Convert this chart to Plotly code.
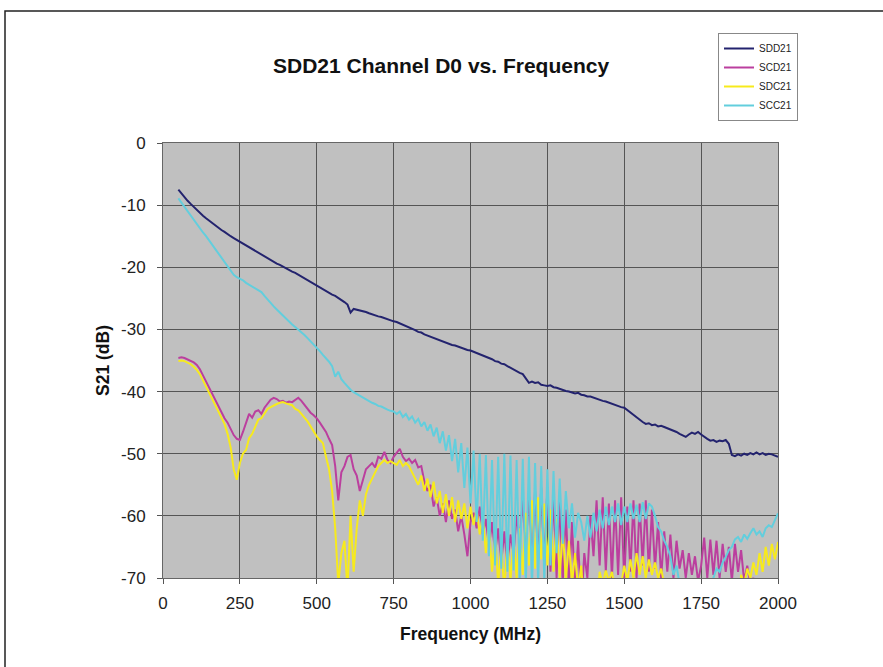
import plotly.graph_objects as go

# Frequency sweep (MHz), 10 MHz steps from 50 to 2000
freq = list(range(50, 2001, 10))

sdd21 = [
    -7.5, -8.1, -8.8, -9.3, -9.8, -10.3, -10.8, -11.3, -11.7, -12.1,
    -12.5, -12.9, -13.3, -13.6, -14.0, -14.3, -14.7, -15.0, -15.3, -15.6,
    -15.9, -16.2, -16.5, -16.8, -17.1, -17.4, -17.7, -18.0, -18.3, -18.6,
    -18.8, -19.1, -19.4, -19.6, -19.9, -20.2, -20.4, -20.7, -20.9, -21.2,
    -21.4, -21.8, -22.1, -22.4, -22.7, -23.0, -23.3, -23.5, -23.9, -24.1,
    -24.4, -24.6, -24.9, -25.3, -25.6, -26.0, -27.3, -26.7, -26.8, -26.9,
    -27.1, -27.2, -27.4, -27.6, -27.7, -27.9, -28.0, -28.2, -28.3, -28.5,
    -28.7, -28.8, -29.0, -29.2, -29.5, -29.7, -29.9, -30.1, -30.4, -30.5,
    -30.8, -31.0, -31.2, -31.4, -31.5, -31.8, -32.0, -32.2, -32.3, -32.5,
    -32.6, -32.8, -33.0, -33.1, -33.3, -33.4, -33.6, -33.7, -33.9, -34.2,
    -34.3, -34.6, -34.8, -35.1, -35.2, -35.5, -35.6, -35.9, -36.2, -36.5,
    -36.8, -37.0, -37.2, -37.9, -38.6, -38.4, -38.6, -38.5, -38.9, -39.0,
    -39.1, -39.0, -39.3, -39.4, -39.6, -39.7, -39.9, -40.0, -40.1, -40.3,
    -40.2, -40.5, -40.6, -40.8, -40.8, -41.0, -41.2, -41.3, -41.5, -41.6,
    -41.8, -42.0, -42.1, -42.3, -42.5, -42.6, -43.0, -43.4, -43.7, -44.2,
    -44.6, -44.9, -45.2, -45.1, -45.4, -45.3, -45.6, -45.5, -45.7, -45.9,
    -46.0, -46.3, -46.5, -46.8, -47.1, -47.3, -46.9, -46.6, -46.8, -46.5,
    -46.9, -47.3, -47.6, -47.9, -47.8, -48.1, -47.9, -48.0, -47.8, -48.4,
    -50.2, -50.4, -50.1, -50.3, -50.0, -50.2, -49.9, -50.1, -49.8, -50.1,
    -49.9, -50.2, -50.0, -50.1, -50.3, -50.5,
]

scd21 = [
    -34.6, -34.5, -34.6, -34.8, -35.0, -35.3, -35.7, -36.4, -37.4, -38.4,
    -39.3, -40.4, -41.5, -42.4, -43.3, -44.3, -45.0, -46.0, -47.0, -47.6,
    -47.8, -46.5, -45.0, -43.6, -44.2, -43.2, -43.0, -43.6, -42.6, -42.0,
    -41.3, -41.0, -41.2, -41.6, -41.5, -41.8, -41.6, -41.7, -41.3, -41.0,
    -41.5, -42.2, -42.8, -43.4, -43.8, -44.3, -45.0, -45.7, -46.5, -47.6,
    -48.6, -52.0, -57.5, -53.0, -52.0, -50.5, -50.2, -52.5, -53.5, -56.0,
    -54.0, -52.5, -52.0, -51.5, -52.2, -50.5, -50.8, -49.7, -51.0, -51.5,
    -50.5, -49.8, -49.2, -50.5, -51.2, -50.8, -51.5, -51.0, -52.2, -52.0,
    -54.5, -56.0, -55.0, -58.5, -57.0, -60.0, -58.0, -61.0, -57.5, -60.5,
    -59.0, -62.5, -60.0, -63.0, -66.5, -61.0, -59.5, -62.0, -58.5, -63.0,
    -60.5, -65.0, -61.0, -66.0, -62.0, -67.5, -62.5, -68.0, -63.0, -66.0,
    -60.0, -64.0, -57.5, -65.0, -56.5, -66.0, -56.0, -67.0, -55.5, -68.0,
    -55.4, -69.0, -56.5, -70.0, -57.5, -71.0, -59.0, -72.0, -61.0, -72.0,
    -64.0, -75.0, -66.0, -70.0, -60.0, -66.5, -57.5, -68.0, -57.0, -69.0,
    -58.0, -70.0, -57.5, -69.5, -57.0, -70.5, -58.5, -69.0, -57.5, -70.0,
    -58.0, -68.0, -57.5, -69.0, -59.0, -68.5, -61.0, -70.0, -62.5, -69.0,
    -63.0, -70.0, -64.0, -68.5, -65.5, -70.0, -66.0, -69.5, -66.5, -70.5,
    -68.0, -63.5, -70.0, -63.8, -69.5, -64.0, -70.0, -64.5, -69.0, -65.0,
    -70.5, -64.5, -69.0, -65.5, -70.5, -68.0, -71.0, -70.0, -73.0, -72.0,
    -75.0, -75.0, -75.0, -75.0, -75.0, -75.0,
]

sdc21 = [
    -35.1, -35.0, -35.1, -35.3, -35.6, -36.0, -36.5, -37.2, -38.2, -39.2,
    -40.2, -41.2, -42.2, -43.2, -44.2, -45.2, -46.8, -49.0, -52.5, -54.2,
    -51.5, -50.0, -49.4, -47.5, -46.8, -45.5, -44.5, -44.3, -43.5, -42.8,
    -42.5, -42.2, -42.0, -41.8, -41.7, -41.9, -42.0, -42.2, -42.8, -43.0,
    -43.6, -44.2, -44.8, -45.6, -46.5, -47.2, -47.8, -48.3, -50.5, -52.5,
    -56.0, -62.0, -71.0, -66.0, -64.0, -72.0, -60.0, -69.0, -62.0, -57.5,
    -60.0, -56.5, -55.0, -54.0, -53.0, -52.0, -51.5, -51.0, -51.5, -51.2,
    -51.5, -51.8, -51.0, -52.0, -51.5, -52.0, -53.0, -54.0, -55.0, -53.5,
    -56.0, -54.0, -57.0, -54.5, -58.0, -56.0, -59.5, -56.5, -60.0, -57.0,
    -61.0, -57.5, -60.5, -58.0, -62.0, -58.5, -61.5, -59.0, -63.0, -60.0,
    -66.0, -61.5, -69.0, -63.0, -71.0, -65.0, -72.0, -64.0, -70.5, -63.5,
    -70.0, -62.0, -69.5, -59.5, -68.0, -57.5, -68.5, -57.0, -67.0, -58.0,
    -68.0, -59.0, -69.0, -60.5, -70.0, -62.0, -70.5, -64.0, -71.0, -66.0,
    -72.0, -68.0, -75.0, -75.0, -75.0, -75.0, -75.0, -69.0, -71.0, -68.8,
    -70.5, -69.0, -72.0, -75.0, -71.0, -68.0, -70.5, -67.0, -70.0, -66.0,
    -69.5, -66.5, -70.0, -67.0, -69.5, -67.5, -70.0, -68.5, -71.0, -72.0,
    -75.0, -75.0, -75.0, -75.0, -75.0, -75.0, -75.0, -75.0, -75.0, -75.0,
    -75.0, -75.0, -75.0, -75.0, -75.0, -75.0, -75.0, -75.0, -75.0, -75.0,
    -75.0, -75.0, -75.0, -69.5, -71.0, -68.5, -70.0, -67.5, -69.5, -66.0,
    -69.0, -65.0, -68.0, -64.5, -67.0, -64.2,
]

scc21 = [
    -8.9, -9.6, -10.3, -11.0, -11.6, -12.3, -13.0, -13.7, -14.4, -15.0,
    -15.7, -16.4, -17.1, -17.8, -18.4, -19.1, -19.8, -20.6, -21.2, -21.6,
    -21.8, -22.1, -22.5, -22.8, -23.0, -23.3, -23.6, -24.0, -24.6, -25.2,
    -25.7, -26.3, -26.8, -27.3, -27.8, -28.3, -28.8, -29.2, -29.6, -30.0,
    -30.4, -30.9, -31.4, -31.9, -32.5, -33.0, -33.5, -34.1, -34.6, -35.2,
    -35.9, -37.6, -36.8, -38.0, -38.6, -39.2, -39.7, -40.1, -40.4, -40.7,
    -41.0, -41.3, -41.5, -41.8, -42.0, -42.3, -42.4, -42.7, -42.9, -43.1,
    -43.2, -43.6, -43.2, -44.1, -43.6, -44.5, -44.0, -45.0, -44.4, -45.6,
    -44.9, -46.3, -45.3, -47.2, -45.8, -48.3, -46.4, -49.5, -47.0, -51.2,
    -47.6, -53.0, -48.3, -55.5, -49.0, -58.0, -49.5, -61.0, -50.0, -64.0,
    -50.2, -66.5, -51.0, -68.0, -50.5, -68.5, -50.0, -69.0, -50.3, -68.8,
    -51.0, -70.5, -50.8, -71.0, -50.5, -72.0, -51.5, -71.0, -52.0, -70.5,
    -52.5, -68.0, -52.8, -66.0, -54.0, -64.5, -56.0, -62.0, -58.0, -63.5,
    -59.5, -61.0, -64.0, -60.0, -63.5, -59.5, -62.5, -59.0, -62.0, -58.5,
    -61.5, -58.5, -61.0, -58.0, -61.5, -58.5, -61.0, -58.0, -60.5, -58.2,
    -61.0, -57.8, -60.5, -58.0, -58.5, -60.0, -61.8, -62.5, -64.0, -65.0,
    -66.5, -69.5, -68.0, -71.0, -73.0, -75.0, -75.0, -75.0, -75.0, -75.0,
    -75.0, -75.0, -73.0, -71.0, -70.0, -68.5, -69.0, -67.5, -66.6, -65.5,
    -65.0, -63.8, -63.4, -64.2, -63.0, -63.7, -62.8, -62.0, -63.0, -62.5,
    -63.4, -62.0, -61.5, -61.8, -60.7, -59.6,
]

series_names = ["SDD21", "SCD21", "SDC21", "SCC21"]
series_values = [sdd21, scd21, sdc21, scc21]
series_colors = ["#23236e", "#bb3f9e", "#f7ea1c", "#62cedd"]

x_ticks = [0, 250, 500, 750, 1000, 1250, 1500, 1750, 2000]
y_ticks = [0, -10, -20, -30, -40, -50, -60, -70]

for v in series_values:
    assert len(v) == len(freq), len(v)

W, H = 883, 667
L, R, T, B = 163, 778, 143, 578


def px(xp):
    return (xp - L) / (R - L)


def py(yp):
    return (B - yp) / (B - T)


fig = go.Figure()
for name, vals, col in zip(series_names, series_values, series_colors):
    fig.add_trace(go.Scatter(x=freq, y=vals, name=name, mode="lines",
                             line=dict(color=col, width=2)))

font = "Liberation Sans, Arial, sans-serif"

fig.update_layout(
    width=W, height=H,
    margin=dict(l=L, r=W - R, t=T, b=H - B, pad=0),
    paper_bgcolor="white",
    plot_bgcolor="#c0c0c0",
    font=dict(family=font, size=17, color="#222"),
    showlegend=True,
    legend=dict(
        x=px(718), y=py(33), xanchor="left", yanchor="top",
        bgcolor="white", bordercolor="#888", borderwidth=1,
        font=dict(size=10, color="#222"),
        itemwidth=30, tracegroupgap=0,
    ),
    xaxis=dict(
        range=[0, 2000], tickvals=x_ticks, ticktext=[str(t) for t in x_ticks],
        showgrid=True, gridcolor="#555", gridwidth=1,
        showline=True, linecolor="#666", linewidth=1, mirror=True,
        ticks="outside", ticklen=5, tickcolor="#555",
        ticklabelstandoff=5,
        tickfont=dict(size=17, color="#222"), zeroline=False,
        title=dict(text="<b>Frequency (MHz)</b>", font=dict(size=17.5, color="#111"),
                   standoff=15),
    ),
    yaxis=dict(
        range=[-70, 0], tickvals=y_ticks, ticktext=[str(t) for t in y_ticks],
        showgrid=True, gridcolor="#555", gridwidth=1,
        showline=True, linecolor="#666", linewidth=1, mirror=True,
        ticks="outside", ticklen=5, tickcolor="#555",
        ticklabelstandoff=8,
        tickfont=dict(size=17, color="#222"), zeroline=False,
        title=dict(text="<b>S21 (dB)</b>", font=dict(size=17.5, color="#111"),
                   standoff=6),
    ),
    annotations=[
        dict(text="<b>SDD21 Channel D0 vs. Frequency</b>", xref="paper", yref="paper",
             x=px(441), y=py(65), xanchor="center", yanchor="middle",
             showarrow=False, font=dict(size=21, color="#111", family=font)),
    ],
    shapes=[
        dict(type="rect", xref="paper", yref="paper",
             x0=px(5), x1=px(900), y0=py(700), y1=py(11),
             line=dict(color="#222", width=1.5), fillcolor="rgba(0,0,0,0)",
             layer="below"),
    ],
)

# remove the browser's default 8px body margin so the figure fills the window
fig.write_html("out.html", config={"displayModeBar": False},
               post_script="document.body.style.margin='0px';")
